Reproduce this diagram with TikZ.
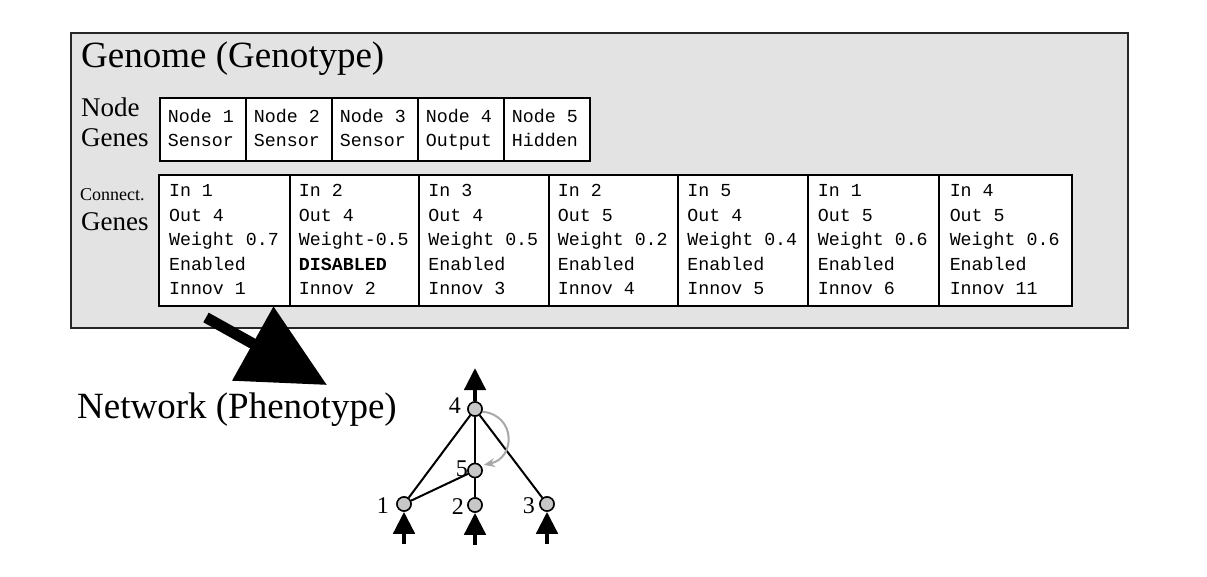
\documentclass[tikz,border=0pt]{standalone}
\usepackage{fontspec}
\setmainfont{Liberation Serif}
\setmonofont{Liberation Mono}
\usetikzlibrary{arrows.meta}
\definecolor{genomefill}{gray}{0.89}
\definecolor{neuronfill}{gray}{0.78}
\definecolor{recurrent}{gray}{0.66}
\newcommand\genefont{\ttfamily\fontsize{18.3}{24.5}\selectfont}
\newcommand\nodegenefont{\ttfamily\fontsize{18.3}{24}\selectfont}
% gene cell contents: one left-aligned column of fixed width
\newcommand\nodegenetext[2]{\begin{tabular}{@{}p{70pt}@{}}#1\\#2\end{tabular}}
\newcommand\conngenetext[5]{\begin{tabular}{@{}p{111pt}@{}}#1\\#2\\#3\\#4\\#5\end{tabular}}

\begin{document}
\begin{tikzpicture}[x=1pt,y=-1pt,
  genomebox/.style={draw=black!85, line width=2.4pt, fill=genomefill, anchor=north west,
    inner sep=0pt, minimum width=1057pt, minimum height=295pt},
  nodegene/.style={draw, line width=1.8pt, fill=white, anchor=north west,
    minimum width=86pt, minimum height=63.5pt, inner xsep=4pt, inner ysep=0pt,
    font=\nodegenefont},
  conngene/.style={draw, line width=1.8pt, fill=white, anchor=north west,
    minimum width=#1, minimum height=130.5pt, inner xsep=4pt, inner ysep=0pt,
    font=\genefont},
  conngene/.default=130pt,
  heading/.style={anchor=base west, inner sep=0pt, font=\fontsize{37}{40}\selectfont},
  rowlabel/.style={anchor=base west, inner sep=0pt, font=\fontsize{27}{30}\selectfont},
  smalllabel/.style={anchor=base west, inner sep=0pt, font=\fontsize{18}{20}\selectfont},
  neuron/.style={circle, draw, line width=1.5pt, fill=neuronfill, minimum size=14pt, inner sep=0pt},
  nlabel/.style={anchor=base east, inner sep=0pt, font=\fontsize{24}{26}\selectfont},
  synapse/.style={line width=2pt},
  ioarrow/.style={line width=4.5pt, -{Triangle[length=22pt,width=21pt]}},
]
\useasboundingbox (0,0) rectangle (1207,577);

% genome panel
\node[genomebox] (genome) at (70,32) {};
\node[heading] (genometitle) at (81,68) {Genome (Genotype)};

% node genes
\node[rowlabel] (nglabelA) at (81,117) {Node};
\node[rowlabel] (nglabelB) at (81,147) {Genes};
\node[nodegene] (ng1) at (159,97) {\nodegenetext{Node 1}{Sensor}};
\node[nodegene] (ng2) at (245,97) {\nodegenetext{Node 2}{Sensor}};
\node[nodegene] (ng3) at (331,97) {\nodegenetext{Node 3}{Sensor}};
\node[nodegene] (ng4) at (417,97) {\nodegenetext{Node 4}{Output}};
\node[nodegene] (ng5) at (503,97) {\nodegenetext{Node 5}{Hidden}};

% connection genes
\node[smalllabel] (cglabelA) at (80,201) {Connect.};
\node[rowlabel] (cglabelB) at (81,231) {Genes};
\node[conngene=130.7pt] (cg1) at (158.3,174.5)
  {\conngenetext{In 1}{Out 4}{Weight 0.7}{Enabled}{Innov 1}};
\node[conngene=129pt] (cg2) at (289,174.5)
  {\conngenetext{In 2}{Out 4}{Weight-0.5}{\textbf{DISABLED}}{Innov 2}};
\node[conngene=130pt] (cg3) at (418,174.5)
  {\conngenetext{In 3}{Out 4}{Weight 0.5}{Enabled}{Innov 3}};
\node[conngene=129pt] (cg4) at (548,174.5)
  {\conngenetext{In 2}{Out 5}{Weight 0.2}{Enabled}{Innov 4}};
\node[conngene=130pt] (cg5) at (677,174.5)
  {\conngenetext{In 5}{Out 4}{Weight 0.4}{Enabled}{Innov 5}};
\node[conngene=131pt] (cg6) at (807,174.5)
  {\conngenetext{In 1}{Out 5}{Weight 0.6}{Enabled}{Innov 6}};
\node[conngene=132.7pt] (cg7) at (938,174.5)
  {\conngenetext{In 4}{Out 5}{Weight 0.6}{Enabled}{Innov 11}};

% genotype-to-phenotype arrow
\coordinate (decodefrom) at (206,317.5);
\coordinate (decodeto) at (327,385);
\draw[line width=11pt, -{Triangle[length=85pt,width=82pt]}] (decodefrom) -- (decodeto);

\node[heading] (phenotitle) at (77,418) {Network (Phenotype)};

% network
\node[neuron] (n4) at (475,409) {};
\node[neuron] (n5) at (475,470.5) {};
\node[neuron] (n1) at (404,504) {};
\node[neuron] (n2) at (475,505) {};
\node[neuron] (n3) at (547,504) {};

\draw[synapse] (n4) -- (n1);
\draw[synapse] (n4) -- (n5);
\draw[synapse] (n4) -- (n3);
\draw[synapse] (n5) -- (n1);
\draw[synapse] (n5) -- (n2);
\draw[line width=2pt, recurrent, -{Stealth[length=11pt,width=9pt]}, shorten >=3pt]
  (n4.-20) .. controls (516,415) and (516,458) .. (n5.40);

% neurons redrawn above the edges
\node[neuron] at (n4) {};
\node[neuron] at (n5) {};
\node[neuron] at (n1) {};
\node[neuron] at (n2) {};
\node[neuron] at (n3) {};

% output and inputs
\coordinate (out4) at (475,368);
\draw[ioarrow] (n4.north) -- (out4);
\coordinate (in1) at (404,544);
\coordinate (in2) at (475,545);
\coordinate (in3) at (547,544);
\draw[ioarrow] (in1) -- (n1.south);
\draw[ioarrow] (in2) -- (n2.south);
\draw[ioarrow] (in3) -- (n3.south);

\node[nlabel] (l4) at (461,413) {4};
\node[nlabel] (l5) at (468,476) {5};
\node[nlabel] (l1) at (389,513) {1};
\node[nlabel] (l2) at (464,514) {2};
\node[nlabel] (l3) at (535,513) {3};
\end{tikzpicture}
\end{document}
